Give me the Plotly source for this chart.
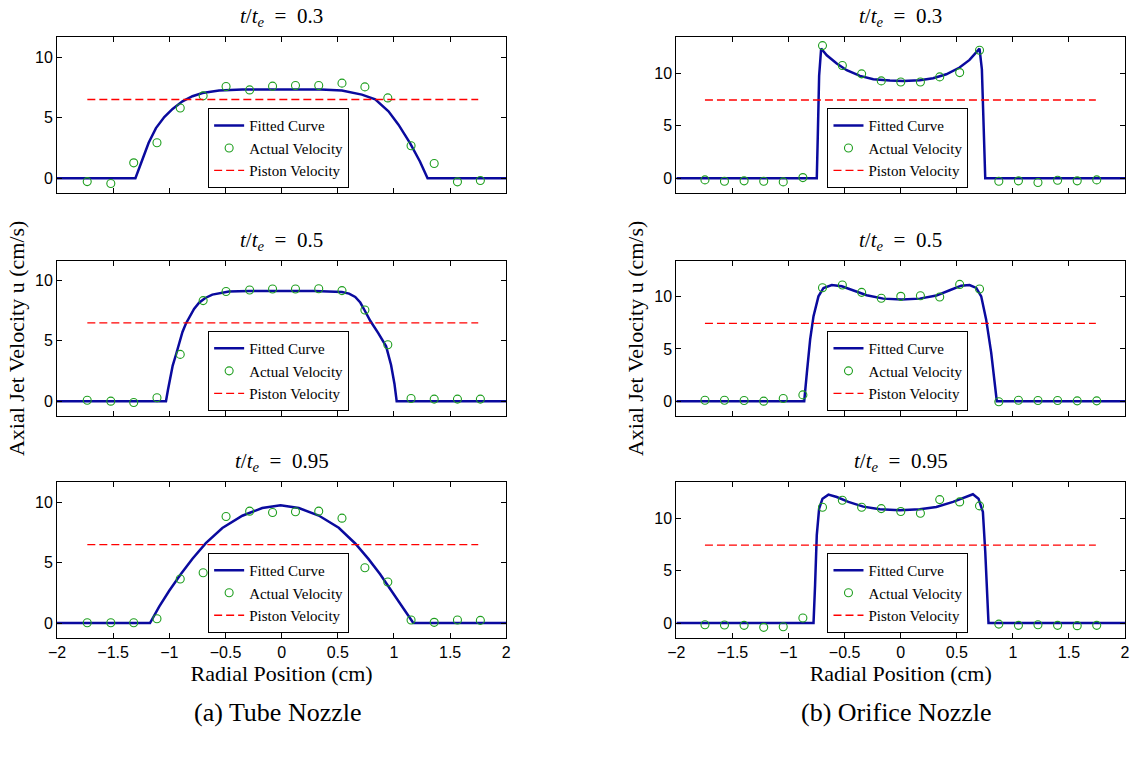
import plotly.graph_objects as go

# ---------------------------------------------------------------- data
# radial sample positions (cm)
tube_r = [-1.731, -1.521, -1.317, -1.110, -0.903, -0.699, -0.495, -0.285, -0.081,
          0.123, 0.330, 0.537, 0.741, 0.945, 1.152, 1.358, 1.565, 1.769]
orifice_r = [-1.745, -1.571, -1.396, -1.221, -1.047, -0.872, -0.697, -0.520, -0.348,
             -0.173, 0.001, 0.176, 0.348, 0.526, 0.703, 0.875, 1.050, 1.224,
             1.399, 1.574, 1.748]

# measured axial velocity (cm/s)
tube_u_030 = [-0.28, -0.44, 1.27, 2.93, 5.80, 6.80, 7.57, 7.29, 7.60,
              7.65, 7.65, 7.85, 7.54, 6.63, 2.68, 1.22, -0.30, -0.19]
tube_u_050 = [0.08, 0.00, -0.11, 0.28, 3.88, 8.34, 9.09, 9.22, 9.30,
              9.30, 9.33, 9.17, 7.56, 4.68, 0.22, 0.17, 0.17, 0.17]
tube_u_095 = [0.03, 0.03, 0.03, 0.36, 3.65, 4.17, 8.84, 9.28, 9.17,
              9.23, 9.28, 8.70, 4.59, 3.40, 0.25, 0.06, 0.25, 0.22]
orifice_u_030 = [-0.16, -0.29, -0.25, -0.29, -0.35, 0.06, 12.63, 10.73, 9.94, 9.27,
                 9.17, 9.17, 9.65, 10.06, 12.19, -0.29, -0.25, -0.41, -0.19, -0.25, -0.16]
orifice_u_050 = [0.09, 0.09, 0.06, 0.00, 0.25, 0.60, 10.85, 11.11, 10.41, 9.84,
                 10.03, 10.09, 9.97, 11.17, 10.73, -0.06, 0.09, 0.06, 0.06, 0.03, 0.03]
orifice_u_095 = [-0.16, -0.19, -0.22, -0.41, -0.35, 0.48, 11.08, 11.75, 11.08, 10.95,
                 10.67, 10.51, 11.81, 11.59, 11.21, -0.10, -0.22, -0.16, -0.22, -0.25, -0.22]

# fitted profiles (r, u)
fit_tube_030_r = [-2, -1.302, -1.252, -1.184, -1.119, -1.045, -0.971, -0.883, -0.794, -0.705,
                  -0.557, -0.35, 0.0, 0.35, 0.536, 0.714, 0.833, 0.951, 1.04, 1.143, 1.231, 1.299, 2]
fit_tube_030_u = [0, 0, 1.24, 2.93, 4.14, 5.05, 5.72, 6.35, 6.77, 7.04,
                  7.24, 7.32, 7.33, 7.32, 7.24, 6.9, 6.52, 5.52, 4.42, 2.9, 1.38, 0, 0]
fit_tube_050_r = [-2, -1.030, -1.012, -0.995, -0.970, -0.941, -0.913, -0.883, -0.853, -0.823,
                  -0.780, -0.735, -0.680, -0.617, -0.469, -0.291, 0.0, 0.291, 0.536, 0.600,
                  0.655, 0.700, 0.738, 0.790, 0.860, 0.930, 0.974, 1.004, 1.024, 2]
fit_tube_050_u = [0, 0, 0.95, 1.86, 2.95, 3.85, 4.85, 5.74, 6.42, 6.98,
                  7.65, 8.17, 8.56, 8.84, 9.09, 9.14, 9.15, 9.13, 9.06, 8.92,
                  8.65, 8.18, 7.54, 6.65, 5.65, 4.55, 3.0, 1.45, 0, 0]
fit_tube_095_r = [-2, -1.172, -1.089, -1.001, -0.897, -0.794, -0.675, -0.528, -0.350, -0.173,
                  -0.010, 0.153, 0.330, 0.508, 0.655, 0.774, 0.877, 0.981, 1.069, 1.172, 2]
fit_tube_095_u = [0, 0, 1.38, 2.68, 4.06, 5.33, 6.63, 7.88, 8.90, 9.54,
                  9.78, 9.54, 8.92, 7.9, 6.6, 5.3, 4.05, 2.65, 1.4, 0, 0]
fit_orifice_030_r = [-2, -0.748, -0.739, -0.727, -0.709, -0.659, -0.570, -0.481, -0.363, -0.244,
                     -0.096, 0.023, 0.170, 0.289, 0.407, 0.525, 0.614, 0.689, 0.703, 0.724,
                     0.739, 0.754, 2]
fit_orifice_030_u = [0, 0, 4.03, 9.75, 12.35, 11.71, 10.92, 10.29, 9.75, 9.43,
                     9.30, 9.27, 9.33, 9.52, 9.90, 10.54, 11.27, 12.22, 12.35, 10.38,
                     5.62, 0, 0]
fit_orifice_050_r = [-2, -0.860, -0.836, -0.807, -0.777, -0.733, -0.688, -0.614, -0.525, -0.422,
                     -0.303, -0.155, 0.007, 0.170, 0.318, 0.437, 0.540, 0.614, 0.674, 0.718,
                     0.762, 0.807, 0.836, 0.857, 2]
fit_orifice_050_u = [0, 0, 2.75, 5.92, 8.13, 10.03, 10.83, 11.11, 10.99, 10.61,
                     10.13, 9.81, 9.72, 9.81, 10.10, 10.61, 11.05, 11.11, 10.83, 10.03,
                     7.82, 4.65, 2.12, 0, 0]
fit_orifice_095_r = [-2, -0.777, -0.763, -0.748, -0.727, -0.697, -0.644, -0.570, -0.466, -0.333,
                     -0.185, -0.008, 0.170, 0.318, 0.467, 0.570, 0.644, 0.694, 0.733, 0.754,
                     0.769, 0.783, 2]
fit_orifice_095_u = [0, 0, 3.65, 8.41, 10.95, 11.90, 12.29, 12.06, 11.59, 11.14,
                     10.89, 10.79, 10.89, 11.11, 11.59, 12.06, 12.32, 11.90, 10.63, 6.82,
                     2.70, 0, 0]

# piston velocity (cm/s) and its extent
piston_tube = 6.5
piston_orifice = 7.45
piston_tube_r = [-1.73, 1.75]
piston_orifice_r = [-1.745, 1.74]

time_labels = ["0.3", "0.5", "0.95"]
x_ticks = [-2, -1.5, -1, -0.5, 0, 0.5, 1, 1.5, 2]
y_ticks = [0, 5, 10]
tube_yrange = [-1.24, 11.66]
orifice_yrange = [-1.43, 13.45]

# ---------------------------------------------------------------- layout geometry (px)
W, H = 1137, 758
ML, MR, MT, MB = 57.33, 7.67, 37.0, 119.7
PW, PH = W - ML - MR, H - MT - MB

def fx(px):
    return (px - ML) / PW

def fy(py):
    return 1 - (py - MT) / PH

COLS = [(57.33, 508.33), (679.0, 1129.33)]
ROWS = [(37.0, 193.3), (260.7, 416.3), (482.7, 638.3)]

SERIF = "Liberation Serif, Times New Roman, serif"
SANS = "Liberation Sans, Arial, sans-serif"
BLUE = "#0a0a9e"
GREEN = "#1f9f1f"
RED = "#ff0000"

panels = [
    (0, 0, tube_r, tube_u_030, fit_tube_030_r, fit_tube_030_u, piston_tube, piston_tube_r, tube_yrange),
    (0, 1, tube_r, tube_u_050, fit_tube_050_r, fit_tube_050_u, piston_tube, piston_tube_r, tube_yrange),
    (0, 2, tube_r, tube_u_095, fit_tube_095_r, fit_tube_095_u, piston_tube, piston_tube_r, tube_yrange),
    (1, 0, orifice_r, orifice_u_030, fit_orifice_030_r, fit_orifice_030_u, piston_orifice, piston_orifice_r, orifice_yrange),
    (1, 1, orifice_r, orifice_u_050, fit_orifice_050_r, fit_orifice_050_u, piston_orifice, piston_orifice_r, orifice_yrange),
    (1, 2, orifice_r, orifice_u_095, fit_orifice_095_r, fit_orifice_095_u, piston_orifice, piston_orifice_r, orifice_yrange),
]

fig = go.Figure()
layout = dict(
    width=W, height=H,
    margin=dict(l=ML, r=MR, t=MT, b=MB, pad=0),
    paper_bgcolor="white", plot_bgcolor="white",
    annotations=[],
)

axis_common = dict(
    showline=True, linecolor="black", linewidth=1, mirror="ticks",
    ticks="inside", ticklen=5, tickwidth=1, tickcolor="black",
    showgrid=False, zeroline=False,
    tickfont=dict(family=SANS, size=16, color="black"),
)

for i, (col, row, r, u, fr, fu, piston, pr, yr) in enumerate(panels):
    n = i + 1
    xa = "x" if n == 1 else f"x{n}"
    ya = "y" if n == 1 else f"y{n}"
    lg = "legend" if n == 1 else f"legend{n}"
    x0, x1 = COLS[col]
    y0, y1 = ROWS[row]

    fig.add_trace(go.Scatter(
        x=fr, y=fu, mode="lines", name="Fitted Curve",
        line=dict(color=BLUE, width=2.5),
        xaxis=xa, yaxis=ya, legend=lg))
    fig.add_trace(go.Scatter(
        x=r, y=u, mode="markers", name="Actual Velocity",
        marker=dict(symbol="circle-open", size=8, color=GREEN, line=dict(width=1.1, color=GREEN)),
        xaxis=xa, yaxis=ya, legend=lg))
    fig.add_trace(go.Scatter(
        x=pr, y=[piston, piston], mode="lines", name="Piston Velocity",
        line=dict(color=RED, width=1.3, dash="8px,4px"),
        xaxis=xa, yaxis=ya, legend=lg))

    xkey = "xaxis" if n == 1 else f"xaxis{n}"
    ykey = "yaxis" if n == 1 else f"yaxis{n}"
    xax = dict(axis_common, domain=[fx(x0), fx(x1)], range=[-2, 2],
               tickvals=x_ticks, showticklabels=(row == 2), anchor=ya)
    yax = dict(axis_common, domain=[fy(y1), fy(y0)], range=yr,
               tickvals=y_ticks, anchor=xa)
    if row == 2:
        xax["title"] = dict(text="Radial Position (cm)", standoff=5,
                            font=dict(family=SERIF, size=22, color="black"))
    if row == 1:
        yax["title"] = dict(text="Axial Jet Velocity u (cm/s)", standoff=4,
                            font=dict(family=SERIF, size=22, color="black"))
    layout[xkey] = xax
    layout[ykey] = yax

    # legend box sits just above the lower axis, centred a little left of x = 0
    layout[lg] = dict(
        x=fx(x0 + 151.7), y=fy(y1 - 5), xanchor="left", yanchor="bottom",
        bgcolor="white", bordercolor="black", borderwidth=1,
        font=dict(family=SERIF, size=15, color="black"),
        itemwidth=30, tracegroupgap=0,
    )

    layout["annotations"].append(dict(
        text=f"<i>t</i>/<i>t</i><sub><i>e</i></sub>&nbsp; = &nbsp;{time_labels[row]}",
        x=fx((x0 + x1) / 2), y=fy(y0 - 20), xref="paper", yref="paper",
        xanchor="center", yanchor="middle", showarrow=False,
        font=dict(family=SERIF, size=21, color="black")))

for label, (x0, x1) in zip(["(a) Tube Nozzle", "(b) Orifice Nozzle"], COLS):
    layout["annotations"].append(dict(
        text=label, x=fx((x0 + x1) / 2 - 4), y=fy(713), xref="paper", yref="paper",
        xanchor="center", yanchor="middle", showarrow=False,
        font=dict(family=SERIF, size=26, color="black")))

fig.update_layout(layout)
fig.write_html("out.html")
